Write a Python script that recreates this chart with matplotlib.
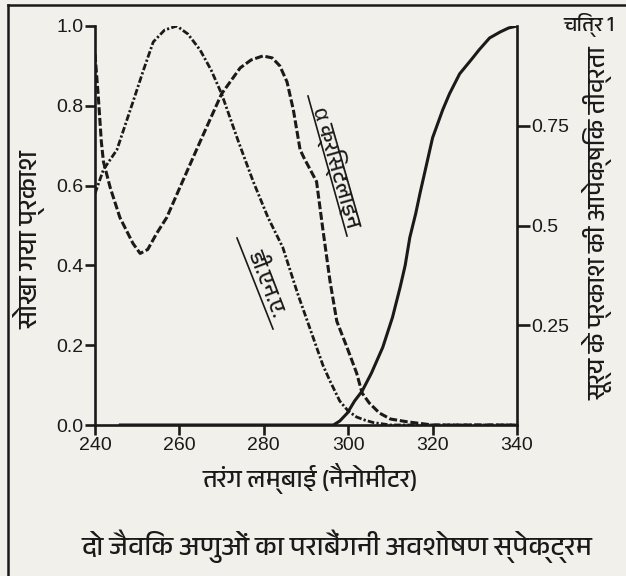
import matplotlib
matplotlib.use("Agg")
import matplotlib.pyplot as plt
from matplotlib import font_manager as fm
from matplotlib.ft2font import FT2Font
from matplotlib.lines import Line2D
from matplotlib.transforms import IdentityTransform

# ---------------- data ----------------
dna_x = [240, 242, 245.2, 249, 251.5, 253.8, 256.5, 259.4, 262, 264.9, 267.5, 270,
         274, 277.5, 281, 284.5, 288, 291, 294, 295.7, 298, 300, 302, 304, 306,
         310, 320, 330, 340]
dna_y = [0.58, 0.64, 0.69, 0.81, 0.89, 0.96, 0.99, 1.00, 0.98, 0.94, 0.89, 0.83,
         0.71, 0.61, 0.52, 0.445, 0.33, 0.24, 0.15, 0.11, 0.06, 0.035, 0.02, 0.012,
         0.006, 0.0, 0.0, 0.0, 0.0]

cry_x = [240, 240.8, 241.5, 242, 243.6, 245.9, 249, 250.7, 252.5, 254.6, 257, 260.1,
         264.9, 270, 274.4, 277, 279.8, 282, 283.8, 285.5, 287, 288.6, 289.5, 291,
         292.5, 294, 295.7, 297.3, 299.7, 302, 303.3, 305, 307.4, 310, 314, 320, 330, 340]
cry_y = [0.93, 0.82, 0.71, 0.66, 0.595, 0.52, 0.455, 0.43, 0.44, 0.48, 0.52, 0.595,
         0.71, 0.83, 0.895, 0.915, 0.925, 0.92, 0.90, 0.86, 0.79, 0.69, 0.67, 0.64,
         0.61, 0.49, 0.36, 0.26, 0.195, 0.13, 0.08, 0.055, 0.03, 0.015, 0.008, 0.0, 0.0, 0.0]

sun_x = [246, 270, 296.5, 298, 299.8, 301.5, 303.3, 305.5, 308.2, 310.5, 312.3,
         313.5, 314.6, 316, 317, 318.5, 320, 322.4, 324, 326.4, 329.5, 331, 333.5,
         336, 338, 340]
sun_y = [0.0, 0.0, 0.0, 0.01, 0.03, 0.06, 0.085, 0.13, 0.195, 0.27, 0.345,
         0.40, 0.47, 0.53, 0.58, 0.65, 0.72, 0.79, 0.83, 0.88, 0.92, 0.94, 0.97,
         0.985, 0.995, 1.0]

x_ticks = [240, 260, 280, 300, 320, 340]
left_ticks = [0.0, 0.2, 0.4, 0.6, 0.8, 1.0]
right_ticks = [0.25, 0.5, 0.75]

xlabel = "तरंग लम्बाई (नैनोमीटर)"
ylabel_left = "सोखा गया प्रकाश"
ylabel_right = "सूर्य के प्रकाश की आपेक्षिक तीव्रता"
title = "दो जैविक अणुओं का पराबैंगनी अवशोषण स्पेक्ट्रम"
fig_label = "चित्र 1"
dna_label = "डी.एन.ए."
cry_label = "α क्रिस्टलाइन"

# ---------------- fonts ----------------
def find_deva():
    cands = []
    for f in fm.fontManager.ttflist:
        try:
            if ord('क') in FT2Font(f.fname).get_charmap():
                cands.append(f.name)
        except Exception:
            pass
    cands.sort(key=lambda n: (0 if 'Devanagari' in n and 'UI' not in n else 1, n))
    return cands[0] if cands else None

deva = find_deva()
num_font = 'Liberation Sans'
hfam = [deva, num_font] if deva else [num_font]

INK = '#1a1a1a'
PAPER = '#f2f0eb'

W, H = 626, 576
fig = plt.figure(figsize=(W / 100, H / 100), dpi=100, facecolor=PAPER)
ax = fig.add_axes([95 / W, 1 - 425 / H, (517 - 95) / W, (425 - 26) / H])
ax.set_facecolor(PAPER)

ax.plot(dna_x, dna_y, color=INK, lw=2.0, dashes=(2.4, 0.8, 0.8, 0.8))
ax.plot(cry_x, cry_y, color=INK, lw=2.2, dashes=(2.6, 0.9))

ax2 = ax.twinx()
ax2.plot(sun_x, sun_y, color=INK, lw=2.2)

for a in (ax, ax2):
    a.set_xlim(240, 340)
    a.set_ylim(0, 1.0)
    a.spines['top'].set_visible(False)
    for s in a.spines.values():
        s.set_linewidth(1.9)
        s.set_color(INK)
ax.spines['right'].set_visible(False)
ax2.spines['left'].set_visible(False)
ax2.spines['bottom'].set_visible(False)

ax.set_xticks(x_ticks)
ax.set_xticklabels([str(v) for v in x_ticks])
ax.set_yticks(left_ticks)
ax.set_yticklabels([f"{v:.1f}" for v in left_ticks])
ax2.set_yticks(right_ticks)
ax2.set_yticklabels([f"{v:g}" for v in right_ticks])

ax.tick_params(axis='both', direction='out', length=7, width=1.9, color=INK,
               labelsize=14, pad=1.5, labelcolor=INK)
ax2.tick_params(axis='y', direction='out', length=9, width=1.9, color=INK,
                labelsize=14, pad=1.5, labelcolor=INK)
for lab in ax.get_xticklabels() + ax.get_yticklabels() + ax2.get_yticklabels():
    lab.set_fontfamily(num_font)

def px(x, y):
    return x / W, 1 - y / H

fig.text(*px(310, 478), xlabel, family=hfam, fontsize=18, ha='center', va='center', color=INK)
fig.text(*px(337, 546), title, family=hfam, fontsize=19.5, ha='center', va='center', color=INK)
fig.text(*px(30, 240), ylabel_left, family=hfam, fontsize=19, rotation=90,
         ha='center', va='center', color=INK)
fig.text(*px(598, 223), ylabel_right, family=hfam, fontsize=17.8, rotation=90,
         ha='center', va='center', color=INK)
fig.text(*px(589, 25), fig_label, family=hfam, fontsize=15, ha='center', va='center', color=INK)

fig.text(*px(266, 283), dna_label, family=hfam, fontsize=16, rotation=-69,
         rotation_mode='anchor', ha='center', va='center', color=INK)
fig.text(*px(337, 167), cry_label, family=hfam, fontsize=16, rotation=-74,
         rotation_mode='anchor', ha='center', va='center', color=INK)

# underlines of the curve labels and the scanned page frame (pixel coords)
def pline(x0, y0, x1, y1, lw):
    fig.add_artist(Line2D([x0, x1], [H - y0, H - y1], transform=IdentityTransform(),
                          color=INK, lw=lw))

pline(237, 238, 273, 329, 1.2)
pline(308, 96, 347, 236, 1.2)
pline(8, 5, 626, 5, 1.8)
pline(8, 5, 8, 576, 1.8)

fig.savefig("out.png", dpi=100, facecolor=PAPER)
